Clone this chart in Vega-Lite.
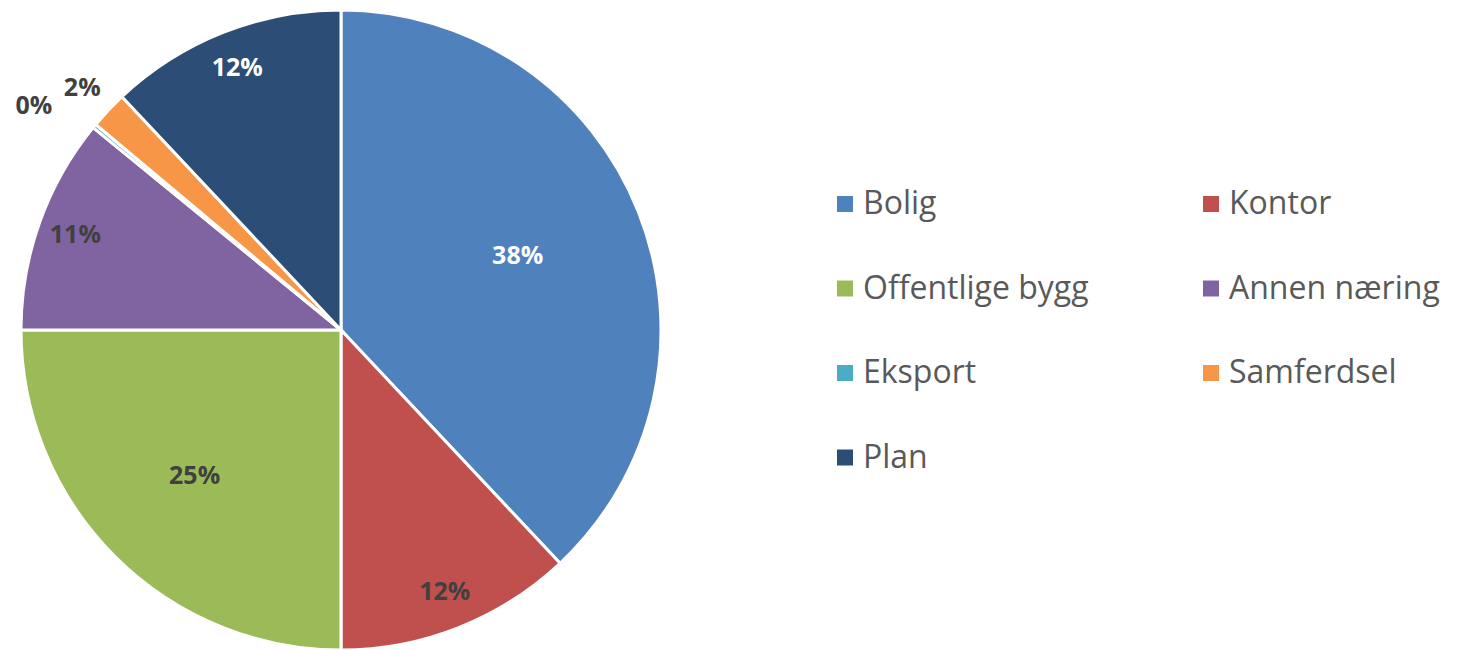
{
  "$schema": "https://vega.github.io/schema/vega-lite/v6.json",
  "width": 640,
  "height": 640,
  "padding": {"left": 21, "top": 10, "right": 796, "bottom": 0},
  "autosize": {"type": "none"},
  "background": "white",
  "view": {"stroke": null},
  "data": {
    "values": [
      {"idx": 1, "kategori": "Bolig", "andel": 0.380},
      {"idx": 2, "kategori": "Kontor", "andel": 0.120},
      {"idx": 3, "kategori": "Offentlige bygg", "andel": 0.250},
      {"idx": 4, "kategori": "Annen næring", "andel": 0.109},
      {"idx": 5, "kategori": "Eksport", "andel": 0.002},
      {"idx": 6, "kategori": "Samferdsel", "andel": 0.019},
      {"idx": 7, "kategori": "Plan", "andel": 0.120}
    ]
  },
  "encoding": {
    "theta": {"field": "andel", "type": "quantitative", "stack": true},
    "order": {"field": "idx", "type": "quantitative"}
  },
  "layer": [
    {
      "mark": {"type": "arc", "stroke": "white", "strokeWidth": 3},
      "encoding": {
        "color": {
          "field": "kategori",
          "type": "nominal",
          "scale": {
            "domain": ["Bolig", "Kontor", "Offentlige bygg", "Annen næring", "Eksport", "Samferdsel", "Plan"],
            "range": ["#4F81BD", "#C0504D", "#9BBB59", "#8064A2", "#4BACC6", "#F79646", "#2C4D75"]
          },
          "legend": {
            "title": null,
            "orient": "none",
            "direction": "horizontal",
            "legendX": 808,
            "legendY": 178,
            "columns": 2,
            "symbolType": "square",
            "symbolSize": 256,
            "symbolStrokeWidth": 0,
            "labelFont": "Open Sans",
            "labelFontSize": 32,
            "labelColor": "#595959",
            "labelOffset": 2,
            "rowPadding": 52.5,
            "columnPadding": 106,
            "padding": 0,
            "labelLimit": 400
          }
        }
      }
    },
    {
      "mark": {"type": "text", "radius": 190, "dy": -4, "font": "Open Sans", "fontWeight": "bold", "fontSize": 25, "color": "white"},
      "encoding": {
        "text": {
          "condition": {"test": "datum.kategori === 'Bolig'", "field": "andel", "format": ".0%"},
          "value": ""
        }
      }
    },
    {
      "mark": {"type": "text", "radius": 207, "font": "Open Sans", "fontWeight": "bold", "fontSize": 25, "color": "#404040"},
      "encoding": {
        "text": {
          "condition": {"test": "datum.kategori === 'Offentlige bygg'", "field": "andel", "format": ".0%"},
          "value": ""
        }
      }
    },
    {
      "mark": {"type": "text", "radius": 282, "font": "Open Sans", "fontWeight": "bold", "fontSize": 25},
      "encoding": {
        "text": {
          "condition": {"test": "datum.kategori === 'Kontor' || datum.kategori === 'Annen næring' || datum.kategori === 'Plan'", "field": "andel", "format": ".0%"},
          "value": ""
        },
        "color": {
          "condition": {"test": "datum.kategori === 'Plan'", "value": "white"},
          "value": "#404040"
        }
      }
    },
    {
      "mark": {"type": "text", "radius": 356, "dy": 3, "font": "Open Sans", "fontWeight": "bold", "fontSize": 25, "color": "#404040"},
      "encoding": {
        "text": {
          "condition": {"test": "datum.kategori === 'Samferdsel'", "field": "andel", "format": ".0%"},
          "value": ""
        }
      }
    },
    {
      "mark": {"type": "text", "radius": 370, "dx": -22, "dy": 12, "font": "Open Sans", "fontWeight": "bold", "fontSize": 25, "color": "#404040"},
      "encoding": {
        "text": {
          "condition": {"test": "datum.kategori === 'Eksport'", "field": "andel", "format": ".0%"},
          "value": ""
        }
      }
    }
  ]
}
